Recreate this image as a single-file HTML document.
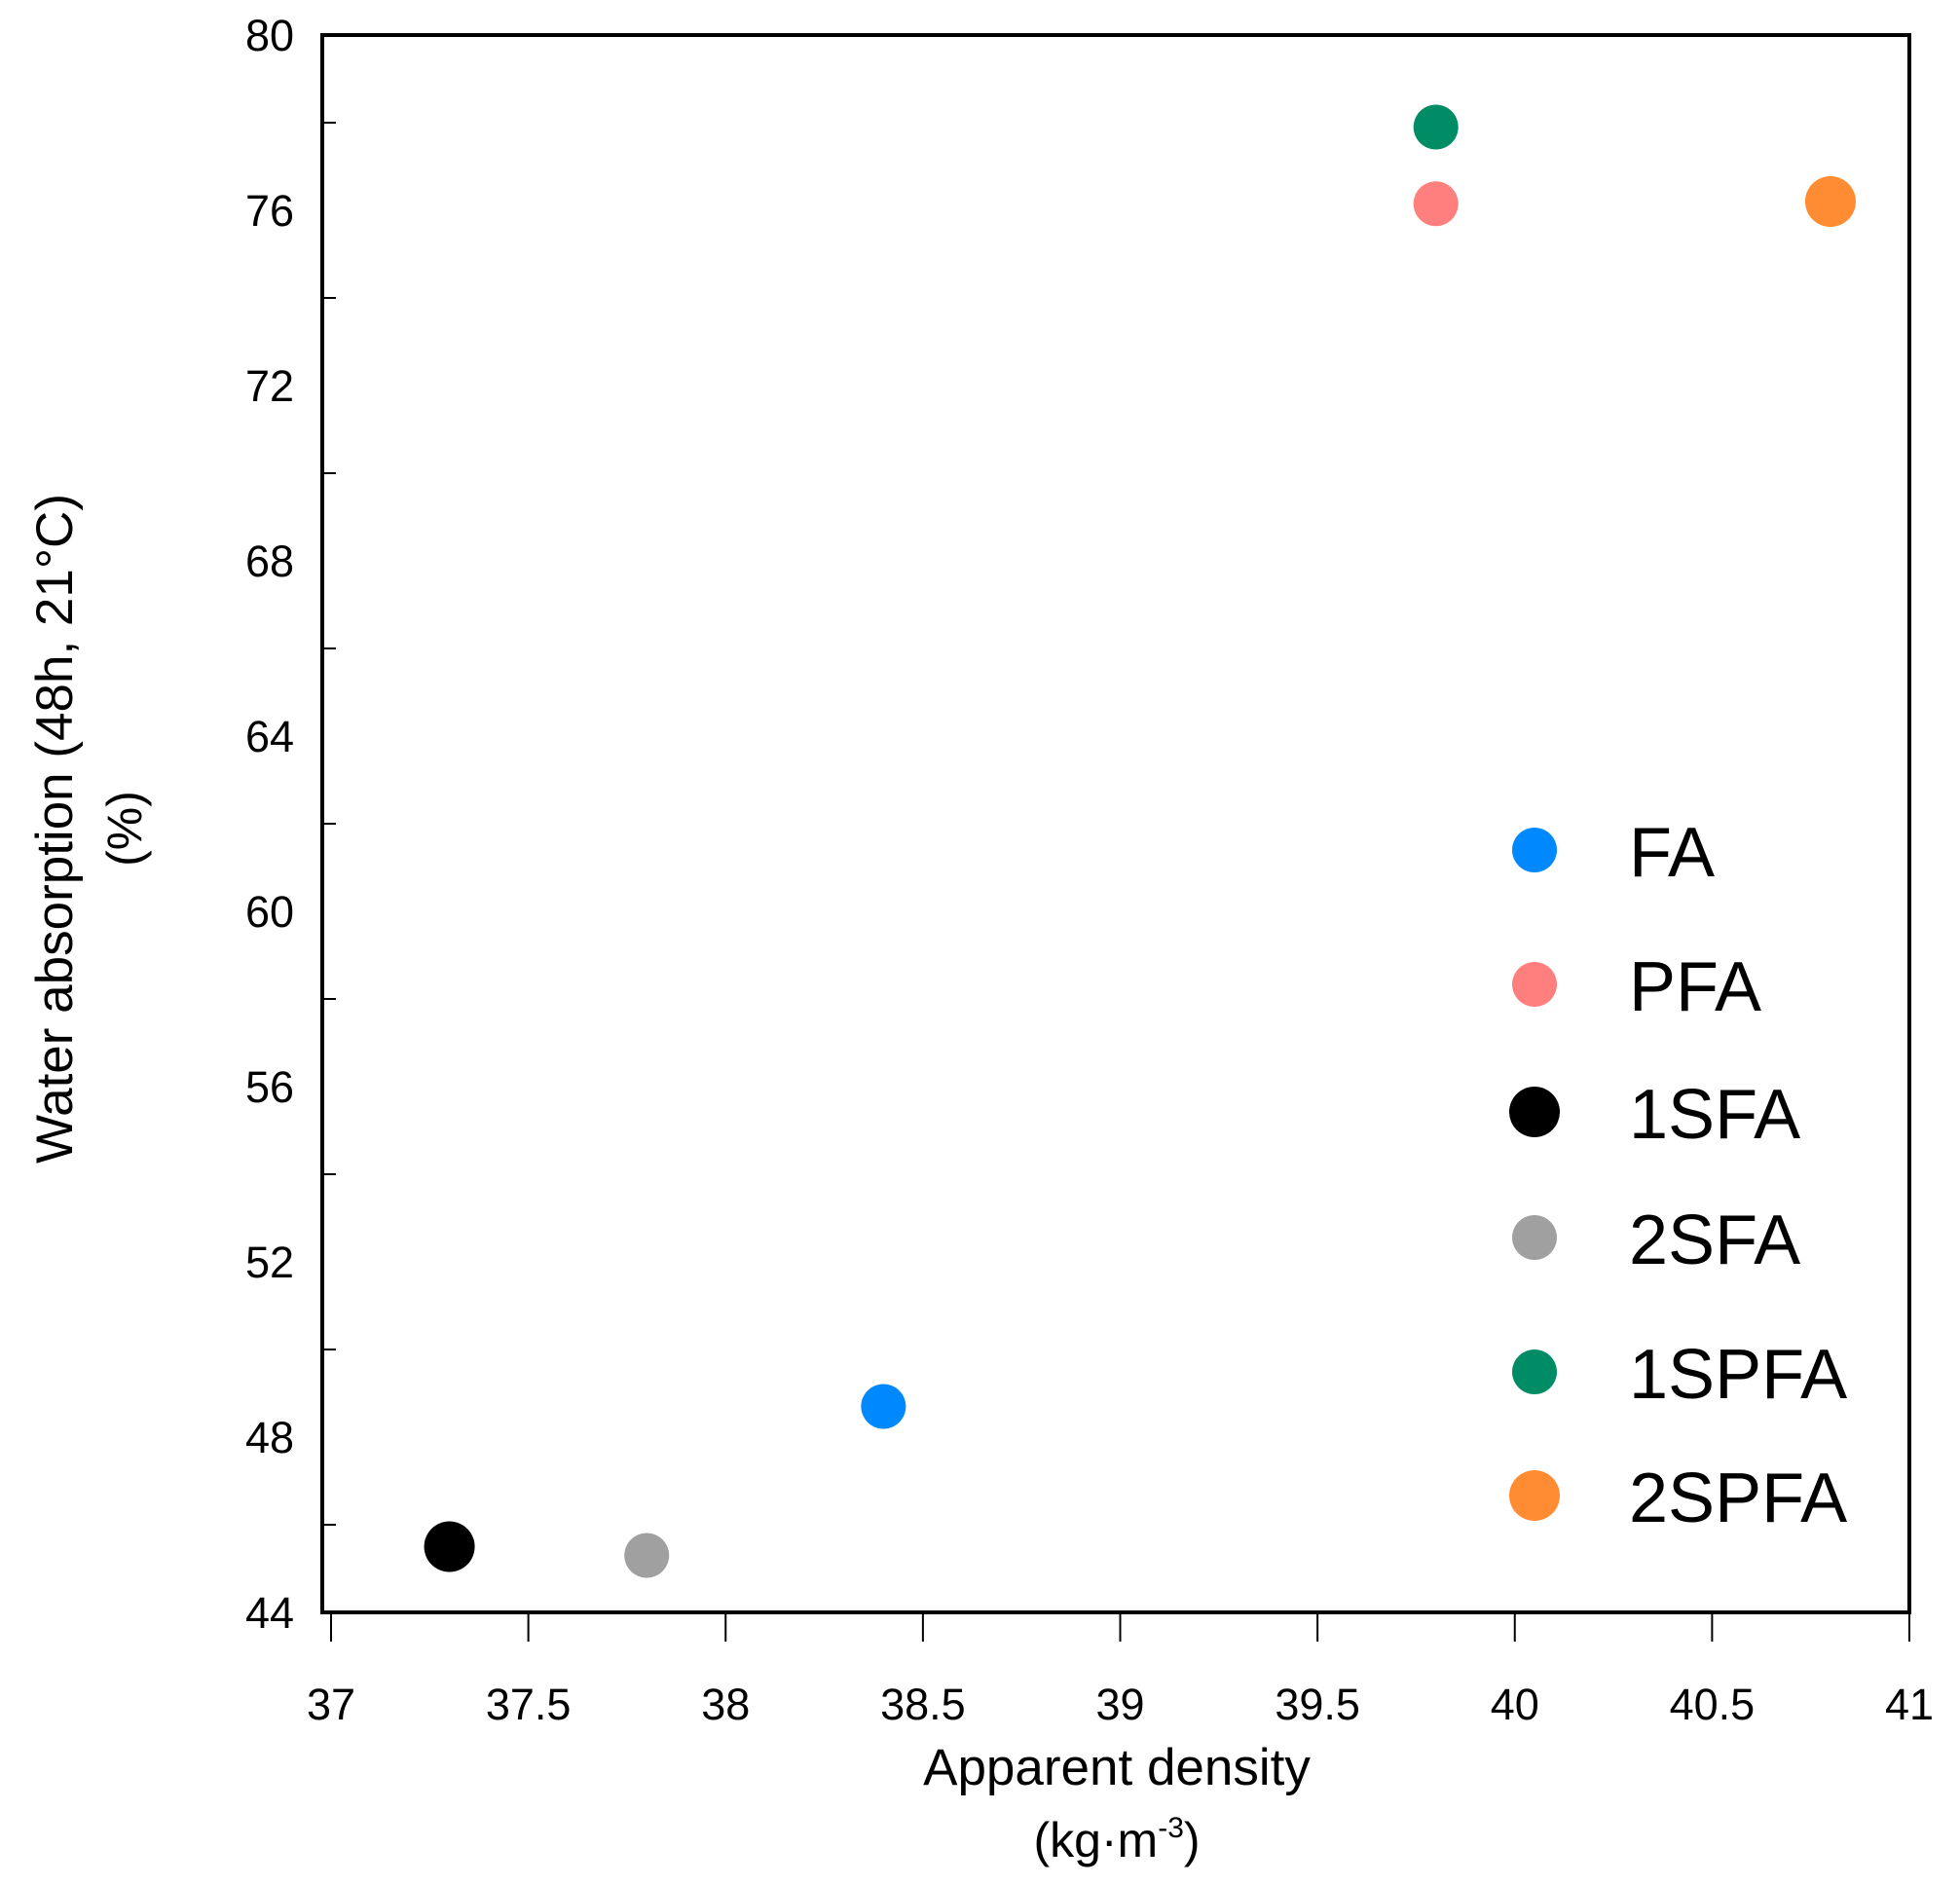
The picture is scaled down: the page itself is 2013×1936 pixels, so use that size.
<!DOCTYPE html>
<html><head><meta charset="utf-8"><style>
html,body{margin:0;padding:0;background:#fff;}
svg text{font-family:"Liberation Sans",sans-serif;fill:#000;}
</style></head><body>
<svg id="chart" width="2013" height="1931" viewBox="0 0 2013 1931" xmlns="http://www.w3.org/2000/svg">
<rect x="331" y="36" width="1630" height="1620" fill="none" stroke="#000" stroke-width="4"/>
<g id="xaxis"></g>
<g id="yaxis"></g>
<g id="points"></g>
<g id="legend"></g>
<text x="1147" y="1833" font-size="53" text-anchor="middle">Apparent density</text>
<text x="1147" y="1907" font-size="50" text-anchor="middle">(kg·m<tspan font-size="30" dy="-20">-3</tspan><tspan dy="20">)</tspan></text>
<text transform="translate(74,851) rotate(-90)" font-size="53" text-anchor="middle">Water absorption (48h, 21°C)</text>
<text transform="translate(145,851) rotate(-90)" font-size="50" text-anchor="middle">(%)</text>
</svg>
<script>
const categories = ["FA","PFA","1SFA","2SFA","1SPFA","2SPFA"];
const densityValues = [38.4, 39.8, 37.3, 37.8, 39.8, 40.8];
const absorptionValues = [48.7, 76.15, 45.5, 45.3, 77.9, 76.2];
const seriesColors = ["#0088ff","#ff7f7f","#000000","#a0a0a0","#008c64","#ff8c32"];
const xTickLabels = ["37","37.5","38","38.5","39","39.5","40","40.5","41"];
const yTickLabels = ["44","48","52","56","60","64","68","72","76","80"];

const NS="http://www.w3.org/2000/svg";
const X0=340,X1=1961,Y0=1656,Y1=36;
const xScale=v=>X0+(v-37)/(41-37)*(X1-X0);
const yScale=v=>Y0-(v-44)/(80-44)*(Y0-Y1);
function mk(tag,attrs,parent){const e=document.createElementNS(NS,tag);for(const k in attrs)e.setAttribute(k,attrs[k]);parent.appendChild(e);return e;}

const xa=document.getElementById('xaxis');
xTickLabels.forEach(t=>{
  const v=parseFloat(t),x=xScale(v);
  const tk=mk('line',{x1:x,x2:x,y1:Y0,y2:Y0+30,stroke:'#000','stroke-width':2},xa);
  
  
  const tx=mk('text',{x:x,y:1766,'font-size':45,'text-anchor':'middle'},xa);
  tx.textContent=t;
  
  
});
const ya=document.getElementById('yaxis');
yTickLabels.forEach(t=>{
  const v=parseFloat(t),y=yScale(v);
  const tx=mk('text',{x:302,y:y+16,'font-size':45,'text-anchor':'end'},ya);
  tx.textContent=t;
  
  
  if(v<80){
    const tk=mk('line',{x1:331,x2:345,y1:yScale(v+2),y2:yScale(v+2),stroke:'#000','stroke-width':2},ya);
    
    
  }
});
const pg=document.getElementById('points');
const lg=document.getElementById('legend');
const legendY=[873,1011,1142,1271,1409,1536];
categories.forEach((c,i)=>{
  const big=(c==="1SFA"||c==="2SPFA");
  const p=mk('circle',{cx:xScale(densityValues[i]),cy:yScale(absorptionValues[i]),r:big?26:23,fill:seriesColors[i]},pg);
  
  
  const m=mk('circle',{cx:1576,cy:legendY[i],r:big?26:23,fill:seriesColors[i]},lg);
  
  
  const t=mk('text',{x:1673,y:legendY[i]+27,'font-size':72},lg);
  t.textContent=c;
  
  
});
</script>
</body></html>
